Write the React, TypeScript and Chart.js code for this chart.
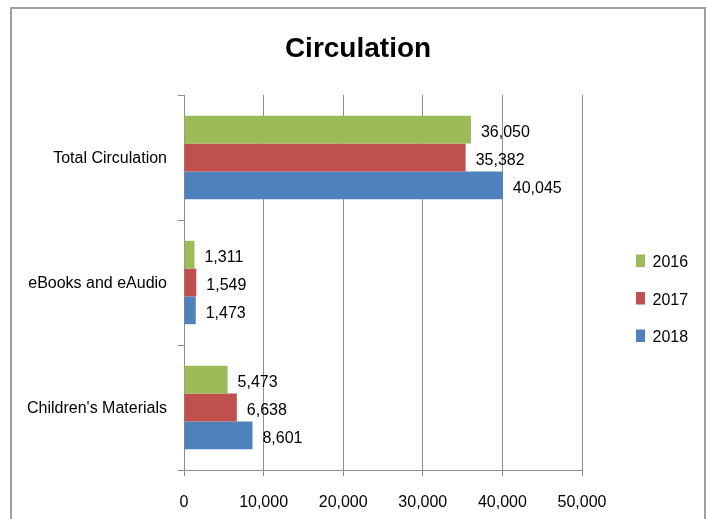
import React, { useEffect, useRef } from "react";
import { Chart, registerables } from "chart.js";

Chart.register(...registerables);

const categories = ["Total Circulation", "eBooks and eAudio", "Children's Materials"];
const seriesNames = ["2016", "2017", "2018"];
const values2016 = [36050, 1311, 5473];
const values2017 = [35382, 1549, 6638];
const values2018 = [40045, 1473, 8601];
const xTickValues = [0, 10000, 20000, 30000, 40000, 50000];
const seriesColors = ["#9BBB59", "#C0504D", "#4F81BD"];
const titleText = "Circulation";

const FONT = "'Liberation Sans', Arial, sans-serif";
const GRID = "#8c8c8c";

const fmt = (v: number) => Number(v).toLocaleString("en-US");

const dataLabels = {
  id: "dataLabels",
  afterDatasetsDraw(chart: any) {
    const ctx = chart.ctx;
    ctx.save();
    ctx.font = `16px ${FONT}`;
    ctx.fillStyle = "#000";
    ctx.textAlign = "left";
    ctx.textBaseline = "middle";
    chart.data.datasets.forEach((ds: any, di: number) => {
      const meta = chart.getDatasetMeta(di);
      meta.data.forEach((el: any, i: number) => {
        ctx.fillText(fmt(ds.data[i]), el.x + 10, el.y + 3);
      });
    });
    ctx.restore();
  },
};

const sideLegend = {
  id: "sideLegend",
  afterDraw(chart: any) {
    const { ctx, chartArea } = chart;
    const n = chart.data.datasets.length;
    const cy = (chartArea.top + chartArea.bottom) / 2 + 15.5;
    ctx.save();
    ctx.font = `16px ${FONT}`;
    ctx.textAlign = "left";
    ctx.textBaseline = "middle";
    chart.data.datasets.forEach((ds: any, i: number) => {
      const y = cy + (i - (n - 1) / 2) * 37.5;
      const x = chartArea.right + 54;
      ctx.fillStyle = ds.backgroundColor;
      ctx.fillRect(x, y - 6, 9, 12.5);
      ctx.fillStyle = "#000";
      ctx.fillText(ds.label, x + 16.5, y + 2.5);
    });
    ctx.restore();
  },
};

export default function App() {
  const ref = useRef<HTMLCanvasElement | null>(null);

  useEffect(() => {
    if (!ref.current) return;
    const seriesValues = [values2016, values2017, values2018];
    const chart = new Chart(ref.current, {
      type: "bar",
      data: {
        labels: categories,
        datasets: seriesNames.map((name, i) => ({
          label: name,
          data: seriesValues[i],
          backgroundColor: seriesColors[i],
          borderWidth: 0,
          categoryPercentage: 0.667,
          barPercentage: 1,
        })),
      },
      options: {
        indexAxis: "y",
        animation: false,
        responsive: false,
        devicePixelRatio: 1,
        layout: { padding: 0 },
        plugins: {
          legend: { display: false },
          tooltip: { enabled: false },
          title: {
            display: true,
            text: titleText,
            color: "#000",
            font: { family: FONT, size: 28, weight: "bold", lineHeight: 1.2 },
            padding: { top: 23, bottom: 29.4 },
          },
        },
        scales: {
          x: {
            min: xTickValues[0],
            max: xTickValues[xTickValues.length - 1],
            afterBuildTicks: (s: any) => {
              s.ticks = xTickValues.map((v) => ({ value: v }));
            },
            ticks: {
              color: "#000",
              font: { family: FONT, size: 16 },
              padding: 17,
              maxRotation: 0,
              callback: (v: any) => fmt(v),
            },
            grid: { color: GRID, tickColor: GRID, tickLength: 6, drawOnChartArea: true },
            border: { color: GRID },
            afterFit: (s: any) => {
              s.height = 49;
            },
          },
          y: {
            ticks: {
              color: "#000",
              font: { family: FONT, size: 16 },
              padding: 11,
              labelOffset: 1.5,
            },
            grid: { color: GRID, tickColor: GRID, tickLength: 6, drawOnChartArea: false, offset: true },
            border: { color: GRID },
            afterFit: (s: any) => {
              s.width = 172;
            },
          },
          legendSpace: {
            type: "linear",
            axis: "y",
            position: "right",
            display: true,
            ticks: { display: false },
            grid: { display: false, drawTicks: false },
            border: { display: false },
            afterFit: (s: any) => {
              s.width = 122;
            },
          },
        },
      } as any,
      plugins: [dataLabels, sideLegend],
    });
    return () => chart.destroy();
  }, []);

  return (
    <div
      style={{
        position: "absolute",
        left: 10,
        top: 7,
        width: 692,
        height: 510,
        borderTop: "2px solid #a0a0a0",
        borderLeft: "2px solid #a0a0a0",
        borderRight: "2px solid #a0a0a0",
        background: "#fff",
      }}
    >
      <canvas ref={ref} width={692} height={510} style={{ display: "block", width: 692, height: 510 }} />
    </div>
  );
}
